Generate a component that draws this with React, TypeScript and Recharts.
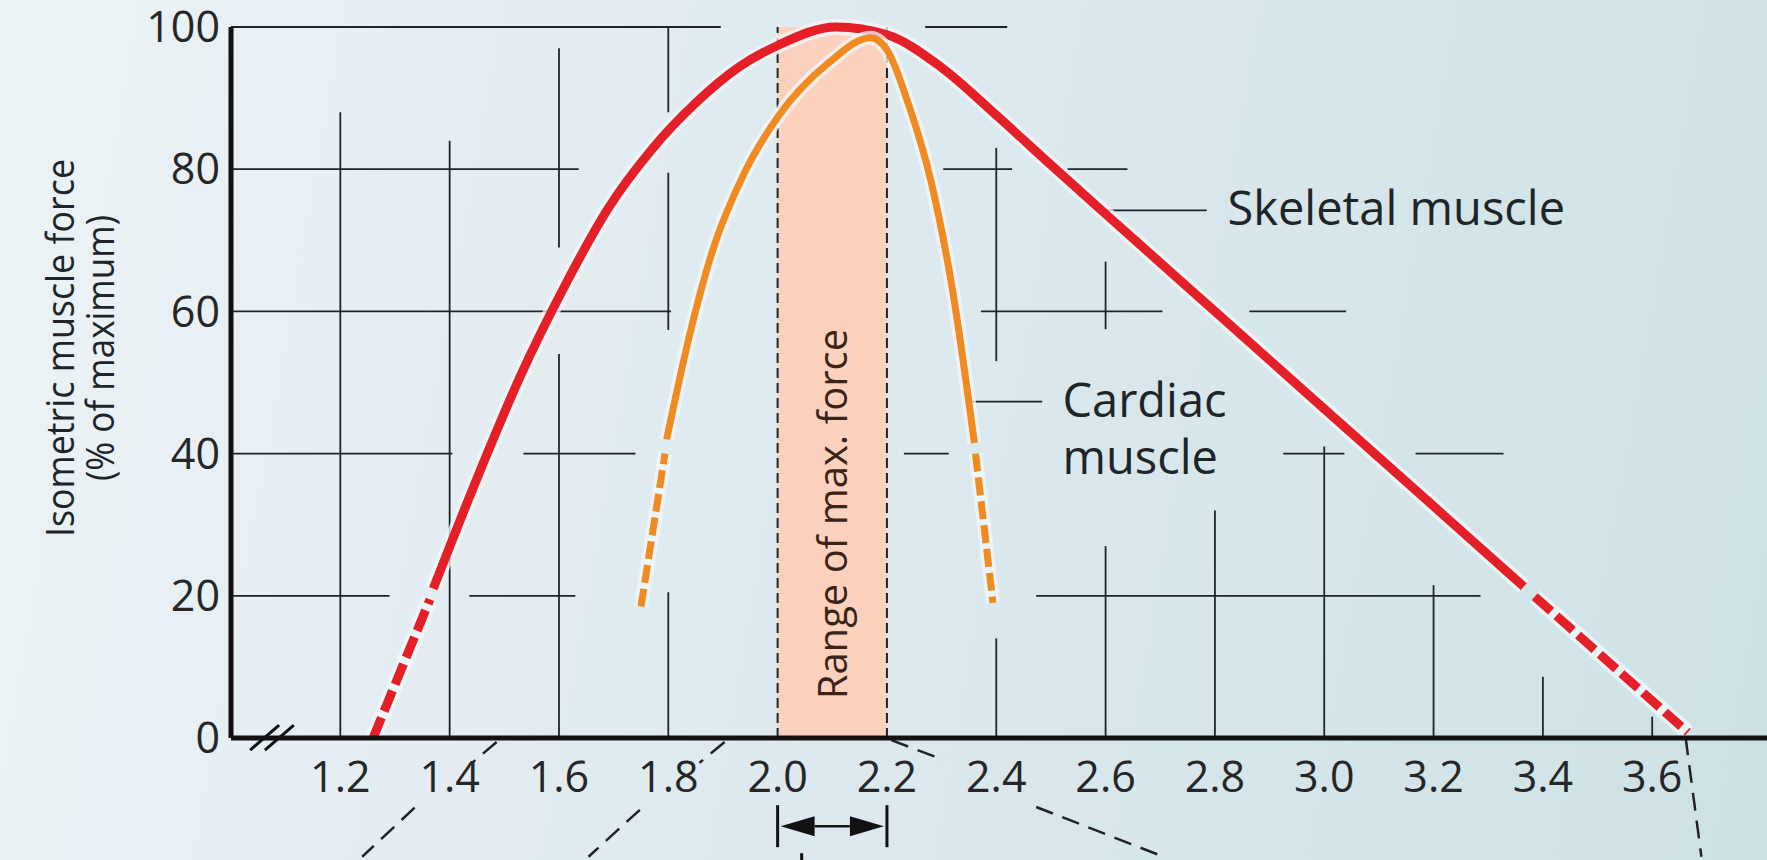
import React from "react";
import { ComposedChart, Line, Area, XAxis, YAxis, ReferenceLine, ReferenceDot } from "recharts";

type Pt = [number, number];
type Seg = [number, number, number];

const FONT = "'Open Sans', 'Noto Sans', sans-serif";
const INK = "#1d2529";
const RED = "#e41f27";
const ORANGE = "#f28a22";

const xTicks = [1.2, 1.4, 1.6, 1.8, 2.0, 2.2, 2.4, 2.6, 2.8, 3.0, 3.2, 3.4, 3.6];
const yTicks = [0, 20, 40, 60, 80, 100];

// skeletal muscle: sarcomere length (µm) vs force (% of max)
const skeletalLowDash: Pt[] = [[1.26, 0], [1.364, 19.5]];
const skeletalSolid: Pt[] = [
  [1.37, 21], [1.45, 36.5], [1.53, 51], [1.61, 63.5], [1.69, 74.5], [1.77, 82.8],
  [1.85, 89.3], [1.93, 94.4], [2.0, 97.4], [2.107, 100], [2.2, 98.9], [2.3, 94.3],
  [2.4, 87.6], [2.5, 80.6], [2.6, 73.7], [2.8, 60], [3.0, 46.3], [3.2, 32.6], [3.365, 21.3],
];
const skeletalHighDash: Pt[] = [[3.385, 19.9], [3.665, 0.8]];

// cardiac muscle
const cardiacLowDash: Pt[] = [[1.75, 18.5], [1.794, 40]];
const cardiacSolid: Pt[] = [
  [1.797, 42], [1.84, 57], [1.88, 68.3], [1.94, 79.6], [2.0, 87.3], [2.094, 95],
  [2.17, 98.5], [2.2, 96.8], [2.24, 89], [2.28, 78.5], [2.32, 63], [2.36, 41.5],
];
const cardiacHighDash: Pt[] = [[2.362, 40], [2.394, 19]];

const rangeBand: Pt[] = [[2.0, 100], [2.2, 100]];
const rangeEdges = [2.0, 2.2];

// broken grid pieces: [y, xFrom, xTo] and [x, yFrom, yTo]
const gridRows: Seg[] = [
  [100, 1.0, 1.896], [100, 2.27, 2.42],
  [80, 1.0, 1.636], [80, 2.303, 2.429], [80, 2.53, 2.64],
  [60, 1.0, 1.805], [60, 2.372, 2.704], [60, 2.863, 3.04],
  [40, 1.0, 1.405], [40, 1.535, 1.74], [40, 2.231, 2.313], [40, 2.925, 3.037], [40, 3.167, 3.328],
  [20, 1.0, 1.29], [20, 1.436, 1.63], [20, 2.473, 3.286],
];
const gridCols: Seg[] = [
  [1.2, 0, 88], [1.4, 0, 84], [1.6, 69, 97], [1.6, 0, 54],
  [1.8, 88, 100], [1.8, 57.4, 79.5], [1.8, 0, 20.5],
  [2.4, 53, 83], [2.4, 0, 14], [2.6, 57.5, 67], [2.6, 0, 27],
  [2.8, 0, 32], [3.0, 0, 41], [3.2, 0, 21.5], [3.4, 0, 8.6], [3.6, 0, 3],
];

// leader lines to the curve names: [y, xFrom, xTo]
const leaders: Seg[] = [[74.2, 2.59, 2.785], [47.3, 2.354, 2.484]];

// dashed guides below the axis (toward the sarcomere drawings)
const guides: [Pt, Pt][] = [
  [[1.486, -0.56], [1.441, -3.5]], [[1.336, -9.8], [1.24, -16.7]],
  [[1.903, -0.56], [1.857, -3.5]], [[1.748, -10.1], [1.654, -16.7]],
  [[2.208, -0.3], [2.304, -3.1]], [[2.473, -9.7], [2.706, -16.7]],
  [[3.661, 0.1], [3.69, -16.7]],
];
const axisBreak: [Pt, Pt][] = [
  [[1.035, -1.7], [1.088, 1.8]],
  [[1.062, -1.7], [1.115, 1.8]],
];

const rows = (pts: Pt[]) => pts.map(([x, y]) => ({ x, y }));

const Callout = (props: any) => {
  const { viewBox, lines, size = 47, gap = 57 } = props;
  const x = viewBox.x + (viewBox.width || 0) / 2;
  const y = viewBox.y + (viewBox.height || 0) / 2;
  return (
    <text x={x} y={y + size * 0.35} fontSize={size} fontFamily={FONT} fill={INK}>
      {lines.map((t: string, i: number) => (
        <tspan key={t} x={x} dy={i === 0 ? 0 : gap}>
          {t}
        </tspan>
      ))}
    </text>
  );
};

const BandLabel = (props: any) => {
  const { viewBox, text, size = 40 } = props;
  const cx = viewBox.x + (viewBox.width || 0) / 2;
  const cy = viewBox.y + (viewBox.height || 0) / 2;
  return (
    <text
      x={cx}
      y={cy + size * 0.36}
      transform={`rotate(-90 ${cx} ${cy})`}
      textAnchor="middle"
      fontSize={size}
      fontFamily={FONT}
      fill="#3a2418"
    >
      {text}
    </text>
  );
};

const AxisTitle = () => {
  const size = 39;
  const cy = 348;
  const lines: [string, number, number][] = [
    ["Isometric muscle force", 60, 378],
    ["(% of maximum)", 100, 266],
  ];
  return (
    <g>
      {lines.map(([t, cx, len]) => (
        <text
          key={t}
          x={cx}
          y={cy + size * 0.36}
          transform={`rotate(-90 ${cx} ${cy})`}
          textAnchor="middle"
          textLength={len}
          lengthAdjust="spacingAndGlyphs"
          fontSize={size}
          fontFamily={FONT}
          fill={INK}
        >
          {t}
        </text>
      ))}
    </g>
  );
};

const RangeArrow = (props: any) => {
  const { x1, y1, x2 } = props;
  const head = 37;
  const half = 10;
  return (
    <g>
      <line x1={x1} y1={y1 - 21} x2={x1} y2={y1 + 21} stroke="#111" strokeWidth={3} />
      <line x1={x2} y1={y1 - 21} x2={x2} y2={y1 + 21} stroke="#111" strokeWidth={3} />
      <line x1={x1 + head} y1={y1} x2={x2 - head} y2={y1} stroke="#111" strokeWidth={2.5} />
      <polygon points={`${x1 + 3},${y1} ${x1 + head},${y1 - half} ${x1 + head},${y1 + half}`} fill="#111" />
      <polygon points={`${x2 - 3},${y1} ${x2 - head},${y1 - half} ${x2 - head},${y1 + half}`} fill="#111" />
    </g>
  );
};

const curve = (key: string, pts: Pt[], color: string, width: number, dash?: string) => [
  <Line
    key={key + "-halo"}
    data={rows(pts)}
    dataKey="y"
    type="monotone"
    stroke="#f3f8fa"
    strokeOpacity={0.75}
    strokeWidth={width + 7}
    dot={false}
    activeDot={false}
    isAnimationActive={false}
  />,
  <Line
    key={key}
    data={rows(pts)}
    dataKey="y"
    type="monotone"
    stroke={color}
    strokeWidth={width}
    strokeDasharray={dash}
    dot={false}
    activeDot={false}
    isAnimationActive={false}
  />,
];

const thin = (key: string, pts: Pt[], dash?: string, width = 1.8) => (
  <Line
    key={key}
    data={rows(pts)}
    dataKey="y"
    type="linear"
    stroke={INK}
    strokeWidth={width}
    strokeDasharray={dash}
    dot={false}
    activeDot={false}
    isAnimationActive={false}
  />
);

export default function App() {
  return (
    <div
      style={{
        position: "absolute",
        left: 0,
        top: 0,
        width: 1767,
        height: 860,
        overflow: "hidden",
        background: "linear-gradient(100deg, #ecf3f7 0%, #dde9ee 50%, #cde2e5 100%)",
      }}
    >
      <ComposedChart width={1767} height={860} margin={{ top: 27, right: 0, bottom: 62, left: 0 }}>
        <XAxis
          type="number"
          dataKey="x"
          domain={[1.0, 3.81]}
          ticks={xTicks}
          tickFormatter={(v: number) => v.toFixed(1)}
          tickLine={false}
          tickSize={6}
          tickMargin={17}
          height={60}
          axisLine={{ stroke: "#111", strokeWidth: 5 }}
          tick={{ fontSize: 43, fill: "#262626", fontFamily: FONT }}
        />
        <YAxis
          type="number"
          domain={[0, 100]}
          ticks={yTicks}
          width={231}
          tickLine={false}
          tickSize={6}
          tickMargin={5}
          axisLine={{ stroke: "#111", strokeWidth: 5 }}
          tick={{ fontSize: 43, fill: "#262626", fontFamily: FONT }}
          label={<AxisTitle />}
        />

        <Area
          data={rows(rangeBand)}
          dataKey="y"
          type="linear"
          stroke="none"
          fill="#fcd2bf"
          fillOpacity={1}
          dot={false}
          activeDot={false}
          isAnimationActive={false}
        />

        {gridRows.map(([y, a, b], i) => thin("r" + i, [[a, y], [b, y]]))}
        {gridCols.map(([x, a, b], i) => thin("c" + i, [[x, a], [x, b]]))}
        {rangeEdges.map((x) => thin("edge" + x, [[x, 0], [x, 100]], "10 5", 2))}
        {leaders.map(([y, a, b], i) => thin("l" + i, [[a, y], [b, y]]))}

        {curve("skLow", skeletalLowDash, RED, 9, "22 7")}
        {curve("skHigh", skeletalHighDash, RED, 9, "22 7")}
        {curve("sk", skeletalSolid, RED, 9)}
        {curve("caLow", cardiacLowDash, ORANGE, 7, "18 6")}
        {curve("caHigh", cardiacHighDash, ORANGE, 7, "18 6")}
        {curve("ca", cardiacSolid, ORANGE, 7)}

        {guides.map(([p, q], i) => (
          <ReferenceLine
            key={"g" + i}
            segment={[{ x: p[0], y: p[1] }, { x: q[0], y: q[1] }]}
            ifOverflow="visible"
            stroke="#222"
            strokeWidth={2.5}
            strokeDasharray="18 10"
          />
        ))}
        {axisBreak.map(([p, q], i) => (
          <ReferenceLine
            key={"b" + i}
            segment={[{ x: p[0], y: p[1] }, { x: q[0], y: q[1] }]}
            ifOverflow="visible"
            stroke="#111"
            strokeWidth={3}
          />
        ))}
        <ReferenceLine
          segment={[{ x: 2.0, y: -12.4 }, { x: 2.2, y: -12.4 }]}
          ifOverflow="visible"
          shape={<RangeArrow />}
        />
        <ReferenceLine
          segment={[{ x: 2.044, y: -16.2 }, { x: 2.044, y: -17.5 }]}
          ifOverflow="visible"
          stroke="#111"
          strokeWidth={3}
        />

        <ReferenceDot
          x={2.823}
          y={74.5}
          r={0}
          fill="none"
          stroke="none"
          ifOverflow="visible"
          label={<Callout lines={["Skeletal muscle"]} />}
        />
        <ReferenceDot
          x={2.521}
          y={47.5}
          r={0}
          fill="none"
          stroke="none"
          ifOverflow="visible"
          label={<Callout lines={["Cardiac", "muscle"]} />}
        />
        <ReferenceDot
          x={2.1}
          y={31.5}
          r={0}
          fill="none"
          stroke="none"
          ifOverflow="visible"
          label={<BandLabel text="Range of max. force" />}
        />
      </ComposedChart>
    </div>
  );
}
